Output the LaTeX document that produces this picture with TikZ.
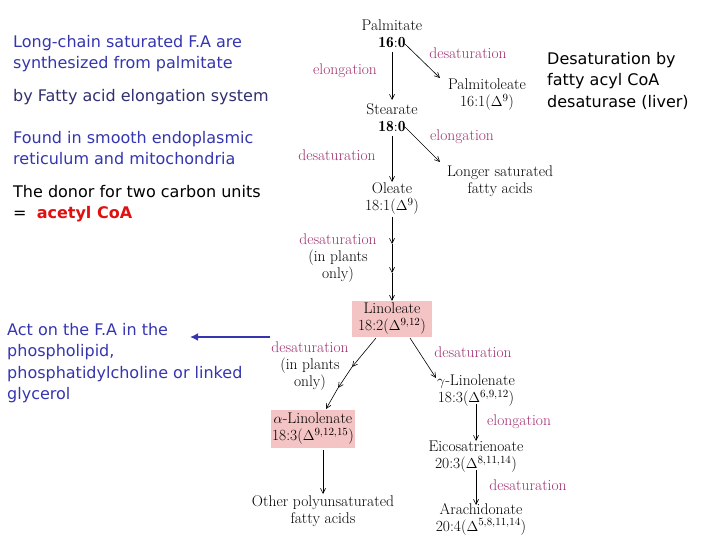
\documentclass[tikz,border=0pt]{standalone}
\usepackage{fontspec}
\newfontfamily\side{DejaVu Sans}
\usetikzlibrary{arrows.meta}
\definecolor{mag}{HTML}{A03070}
\definecolor{pinkbox}{HTML}{F4C4C4}
\definecolor{blu}{HTML}{3535B0}
\definecolor{navy}{HTML}{303070}
\definecolor{redt}{HTML}{E01010}
\begin{document}
\begin{tikzpicture}[x=1pt,y=-1pt,
  cpd/.style={align=center,font=\fontsize{15.5}{17}\selectfont,inner sep=1pt},
  hl/.style={cpd,fill=pinkbox},
  lab/.style={align=center,text=mag,font=\fontsize{15.5}{17}\selectfont,inner sep=1pt},
  side/.style={align=left,anchor=north west,font=\side\fontsize{16}{21.5}\selectfont,inner sep=0pt},
  ar/.style={-{Straight Barb[length=5pt,width=5pt]},line width=0.6pt}]
\useasboundingbox (0,0) rectangle (720,540);
\node[cpd] (pal) at (392,34) {Palmitate\\$\mathbf{16{:}0}$};
\node[cpd] (pol) at (487,95) {Palmitoleate\\16:1($\Delta^9$)};
\node[cpd] (ste) at (392,118) {Stearate\\$\mathbf{18{:}0}$};
\node[cpd] (lon) at (500,181) {Longer saturated\\fatty acids};
\node[cpd] (ole) at (392,199) {Oleate\\18:1($\Delta^9$)};
\node[hl,minimum width=80,minimum height=36] (lin) at (392,319) {Linoleate\\18:2($\Delta^{9,12}$)};
\node[hl,minimum width=72,minimum height=38] (ali) at (313,429) {$\alpha$-Linolenate\\18:3($\Delta^{9,12,15}$)};
\node[cpd] (gli) at (476,391) {$\gamma$-Linolenate\\18:3($\Delta^{6,9,12}$)};
\node[cpd] (eic) at (476,457) {Eicosatrienoate\\20:3($\Delta^{8,11,14}$)};
\node[cpd] (ara) at (481,519) {Arachidonate\\20:4($\Delta^{5,8,11,14}$)};
\node[cpd] (oth) at (323,511) {Other polyunsaturated\\fatty acids};
\coordinate (o1) at (392,244); \coordinate (o2) at (392,273);
\coordinate (a1) at (352,367); \coordinate (a2) at (338,388);
\draw[ar] (392,52) -- (392,100);
\draw[ar] (405,44) -- (440,78);
\draw[ar] (392,136) -- (392,182);
\draw[ar] (405,127) -- (440,162);
\draw[ar] (392,217) -- (o1);
\draw[ar] (o1) -- (o2);
\draw[ar] (o2) -- (lin.north);
\draw[ar] (376,338) -- (a1);
\draw[ar] (a1) -- (a2);
\draw[ar] (a2) -- (326,409);
\draw[ar] (410,338) -- (436,378);
\draw[ar] (476,404) -- (476,441);
\draw[ar] (476,470) -- (476,505);
\draw[ar] (323,450) -- (323,494);
\node[lab] at (468,53) {desaturation};
\node[lab] at (345,71) {elongation};
\node[lab] at (462,137) {elongation};
\node[lab] at (337,155) {desaturation};
\node[lab] at (338,258) {desaturation\\\textcolor{black}{(in plants}\\\textcolor{black}{only)}};
\node[lab] at (310,366) {desaturation\\\textcolor{black}{(in plants}\\\textcolor{black}{only)}};
\node[lab] at (473,352) {desaturation};
\node[lab] at (519,422) {elongation};
\node[lab] at (528,485) {desaturation};
\node[side] (t1) at (13,35) {\textcolor{blu}{Long-chain saturated F.A are}\\\textcolor{blu}{synthesized from palmitate}};
\node[side] (t2) at (13,89) {\textcolor{navy}{by Fatty acid elongation system}};
\node[side] (t3) at (13,131) {\textcolor{blu}{Found in smooth endoplasmic}\\\textcolor{blu}{reticulum and mitochondria}};
\node[side] (t4) at (13,185) {The donor for two carbon units\\=\ \ \textcolor{redt}{\bfseries acetyl CoA}};
\node[side,text=blu] (t5) at (7,323) {Act on the F.A in the\\phospholipid,\\phosphatidylcholine or linked\\glycerol};
\node[side] (t6) at (547,52) {Desaturation by\\fatty acyl CoA\\desaturase (liver)};
\coordinate (bl) at (270,337);
\draw[-{Latex[length=8pt,width=8pt]},blu,line width=2.5pt] (bl) -- (190,337);
\end{tikzpicture}
\end{document}
